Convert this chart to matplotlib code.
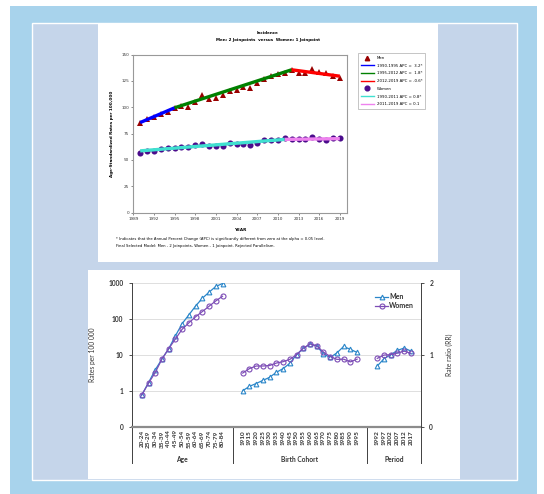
import numpy as np
import matplotlib
matplotlib.use('Agg')
import matplotlib.pyplot as plt
import matplotlib.transforms as mtransforms
from matplotlib.patches import Rectangle

W, H = 544, 494

# ---- upper chart data (joinpoint incidence) ----
years = list(range(1990, 2020))
men_rate = [84.8, 88.7, 90.5, 93.4, 95.6, 99.0, 101.0, 100.7, 104.6, 111.2,
            108.3, 109.1, 111.7, 115.7, 116.6, 119.0, 118.5, 123.4, 127.0, 129.4,
            131.9, 132.8, 135.3, 132.5, 132.9, 136.1, 133.5, 132.2, 129.9, 128.2]
women_rate = [56.8, 58.4, 58.2, 60.1, 61.7, 61.8, 62.4, 61.9, 63.8, 65.3,
              63.4, 63.0, 63.4, 66.0, 64.8, 64.8, 64.1, 65.7, 69.0, 69.0,
              68.8, 71.0, 69.8, 69.8, 69.5, 71.4, 69.5, 69.1, 70.4, 70.4]
men_fit_years = [1990, 1995, 2012, 2019]
men_fit_vals = [85.5, 99.5, 135.6, 129.5]
men_fit_labels = ['1990-1995 APC =  3.2*', '1995-2012 APC =  1.8*', '2012-2019 APC = -0.6*']
men_fit_colors = ['#0000ff', '#008000', '#ff0000']
women_fit_years = [1990, 2011, 2019]
women_fit_vals = [58.6, 69.5, 70.2]
women_fit_labels = ['1990-2011 APC = 0.8*', '2011-2019 APC = 0.1']
women_fit_colors = ['#40e0d0', '#ee82ee']

# ---- lower chart data (age-period-cohort) ----
age_groups = ['20-24', '25-29', '30-34', '35-39', '40-44', '45-49', '50-54',
              '55-59', '60-64', '65-69', '70-74', '75-79', '80-84']
age_men = [0.76, 1.68, 3.8, 7.6, 14.7, 33.5, 73, 128, 225, 370, 545, 785, 950]
age_women = [0.76, 1.62, 3.2, 7.6, 14.7, 27.5, 51, 77, 113, 158, 222, 312, 420]
cohorts = ['1910', '1915', '1920', '1925', '1930', '1935', '1940', '1945', '1950',
           '1955', '1960', '1965', '1970', '1975', '1980', '1985', '1990', '1995']
coh_men = [0.50, 0.56, 0.60, 0.643, 0.686, 0.755, 0.807, 0.88, 1.0,
           1.088, 1.148, 1.123, 1.01, 0.962, 1.025, 1.114, 1.074, 1.032]
coh_women = [0.745, 0.807, 0.843, 0.843, 0.85, 0.884, 0.903, 0.935, 1.0,
             1.088, 1.148, 1.123, 1.037, 0.975, 0.935, 0.938, 0.9, 0.938]
periods = ['1992', '1997', '2002', '2007', '2012', '2017']
per_men = [0.843, 0.944, 1.0, 1.06, 1.093, 1.05]
per_women = [0.949, 0.995, 1.0, 1.023, 1.05, 1.018]


def fbox(x0, y0, x1, y1):
    return [x0 / W, 1 - y1 / H, (x1 - x0) / W, (y1 - y0) / H]


def frect(x0, y0, x1, y1, **kw):
    b = fbox(x0, y0, x1, y1)
    fig.add_artist(Rectangle((b[0], b[1]), b[2], b[3], transform=fig.transFigure, **kw))


fig = plt.figure(figsize=(W / 100, H / 100), dpi=100)
fig.patch.set_facecolor('white')

# frames / backgrounds
frect(10, 6, 537, 494, facecolor='#a8d3ec', edgecolor='none', zorder=-10)
frect(32, 23, 517, 480, facecolor='#c5d5ea', edgecolor='white', lw=1.0, zorder=-9)
frect(98, 24, 438, 262, facecolor='white', edgecolor='none', zorder=-8)
frect(88, 270, 460, 479, facecolor='white', edgecolor='none', zorder=-8)

# ================= upper chart =================
ax = fig.add_axes(fbox(133.3, 54.6, 346.7, 212.6))
for i in range(len(men_fit_labels)):
    ax.plot(men_fit_years[i:i + 2], men_fit_vals[i:i + 2], color=men_fit_colors[i],
            lw=2.4, solid_capstyle='butt', zorder=3)
for i in range(len(women_fit_labels)):
    ax.plot(women_fit_years[i:i + 2], women_fit_vals[i:i + 2], color=women_fit_colors[i],
            lw=2.4, solid_capstyle='butt', zorder=3)
ax.plot(years, men_rate, '^', color='#990000', ms=4, mew=0, zorder=2)
ax.plot(years, women_rate, 'o', color='#4b0c8c', ms=4.4, mew=0, zorder=2)
ax.set_xlim(1989, 2020)
ax.set_ylim(0, 150)
ax.set_xticks(range(1989, 2020, 3))
ax.set_yticks(range(0, 151, 25))
ax.tick_params(labelsize=3, length=1.5, width=0.4, pad=1.5, colors='#333333')
for s in ax.spines.values():
    s.set_color('#999999')
    s.set_linewidth(0.8)
ax.set_xlabel('YEAR', fontsize=3, fontweight='bold', labelpad=5)
ax.set_ylabel('Age-Standardized Rates per 100,000', fontsize=3, fontweight='bold', labelpad=5)

# legend
hs = [plt.Line2D([], [], ls='none', marker='^', color='#990000', ms=3.2)]
hs += [plt.Line2D([], [], color=c, lw=1.0) for c in men_fit_colors]
hs += [plt.Line2D([], [], ls='none', marker='o', color='#4b0c8c', ms=3.4)]
hs += [plt.Line2D([], [], color=c, lw=1.0) for c in women_fit_colors]
labs = ['Men'] + men_fit_labels + ['Women'] + women_fit_labels
leg = ax.legend(hs, labs, loc='upper left', bbox_to_anchor=(356 / W, 1 - 51 / H),
                bbox_transform=fig.transFigure, fontsize=2.8, frameon=True,
                fancybox=False, edgecolor='#999999', handlelength=3.2,
                labelspacing=0.95, borderpad=0.8, handletextpad=0.8)
leg.get_frame().set_linewidth(0.5)

fig.text(268 / W, 1 - 33.5 / H, 'Incidence', ha='center', va='center', fontsize=2.9, fontweight='bold')
fig.text(268 / W, 1 - 40.5 / H, 'Men: 2 Joinpoints  versus  Women: 1 Joinpoint', ha='center',
         va='center', fontsize=2.9, fontweight='bold')
fig.text(116 / W, 1 - 239 / H,
         '* Indicates that the Annual Percent Change (APC) is significantly different from zero at the alpha = 0.05 level.',
         ha='left', va='center', fontsize=2.7)
fig.text(116 / W, 1 - 245.5 / H,
         'Final Selected Model: Men - 2 Joinpoints, Women - 1 Joinpoint. Rejected Parallelism.',
         ha='left', va='center', fontsize=2.7)

# ================= lower chart =================
plt.rcParams['font.family'] = ['Lato', 'DejaVu Sans']
men_c = '#2a86c9'
women_c = '#7d4db6'
x_age = list(range(len(age_groups)))
x_coh = [15 + i for i in range(len(cohorts))]
x_per = [35 + i for i in range(len(periods))]
mk_men = dict(color=men_c, lw=0.9, marker='^', mfc='white', mec=men_c, ms=3.4, mew=0.8, zorder=3)
mk_women = dict(color=women_c, lw=0.9, marker='o', mfc='none', mec=women_c, ms=3.6, mew=0.8, zorder=3)

bx = fig.add_axes(fbox(131.7, 282.7, 421, 426.7))
bx.set_facecolor('none')
bx.set_yscale('log')
bx.set_ylim(0.1, 1000)
bx.set_xlim(-1.5, 41.5)
for v in [1, 10, 100, 1000]:
    bx.axhline(v, color='#d9d9d9', lw=0.6, zorder=0)
l1, = bx.plot(x_age, age_men, **mk_men)
l2, = bx.plot(x_age, age_women, **mk_women)
bx.set_yticks([0.1, 1, 10, 100, 1000])
bx.set_yticklabels(['0', '1', '10', '100', '1000'])
bx.yaxis.set_minor_locator(matplotlib.ticker.NullLocator())
bx.set_xticks(x_age + x_coh + x_per)
bx.set_xticklabels(age_groups + cohorts + periods, rotation=90, fontsize=4.6,
                   fontweight='bold', color='#333333')
bx.tick_params(axis='x', length=0, pad=2.5)
bx.tick_params(axis='y', labelsize=4.8, length=2, width=0.6, pad=4, colors='#333333')
for t in bx.get_yticklabels():
    t.set_fontweight('bold')
bx.spines['top'].set_visible(False)
bx.spines['right'].set_visible(False)
bx.spines['left'].set_color('#404040')
bx.spines['left'].set_linewidth(0.7)
bx.spines['bottom'].set_color('#8c8c8c')
bx.spines['bottom'].set_linewidth(1.6)
bx.set_ylabel('Rates per 100 000', fontsize=4.8, color='#333333', labelpad=9)

trans = mtransforms.blended_transform_factory(bx.transData, bx.transAxes)
for xs in [-1.5, 13.5, 33.5, 41.5]:
    bx.plot([xs, xs], [0, -0.252], transform=trans, clip_on=False, color='#404040', lw=0.7)
group_names = ['Age', 'Birth Cohort', 'Period']
group_mid = [(x_age[0] + x_age[-1]) / 2, (x_coh[0] + x_coh[-1]) / 2, (x_per[0] + x_per[-1]) / 2]
for name, xm in zip(group_names, group_mid):
    bx.text(xm, -0.225, name, transform=trans, ha='center', va='center', fontsize=4.8,
            fontweight='bold', color='#333333')

bx2 = bx.twinx()
bx2.set_ylim(0, 2)
bx2.set_yticks([0, 1, 2])
for grp_x, m, w in [(x_coh, coh_men, coh_women), (x_per, per_men, per_women)]:
    bx2.plot(grp_x, m, **mk_men)
    bx2.plot(grp_x, w, **mk_women)
for s in ['top', 'left', 'bottom']:
    bx2.spines[s].set_visible(False)
bx2.spines['right'].set_color('#404040')
bx2.spines['right'].set_linewidth(0.7)
bx2.tick_params(axis='y', labelsize=4.8, length=2, width=0.6, pad=4, colors='#333333')
for t in bx2.get_yticklabels():
    t.set_fontweight('bold')
bx2.set_ylabel('Rate ratio (RR)', fontsize=4.8, color='#333333', labelpad=9)
leg2 = bx2.legend([l1, l2], ['Men', 'Women'], loc='upper left', bbox_to_anchor=(372 / W, 1 - 290 / H),
                  bbox_transform=fig.transFigure, frameon=False, handlelength=1.8,
                  handletextpad=0.2, labelspacing=0.25, borderpad=0,
                  prop={'size': 5, 'weight': 'bold'})
for t in leg2.get_texts():
    t.set_color('#333333')

fig.savefig('out.png', dpi=100)
